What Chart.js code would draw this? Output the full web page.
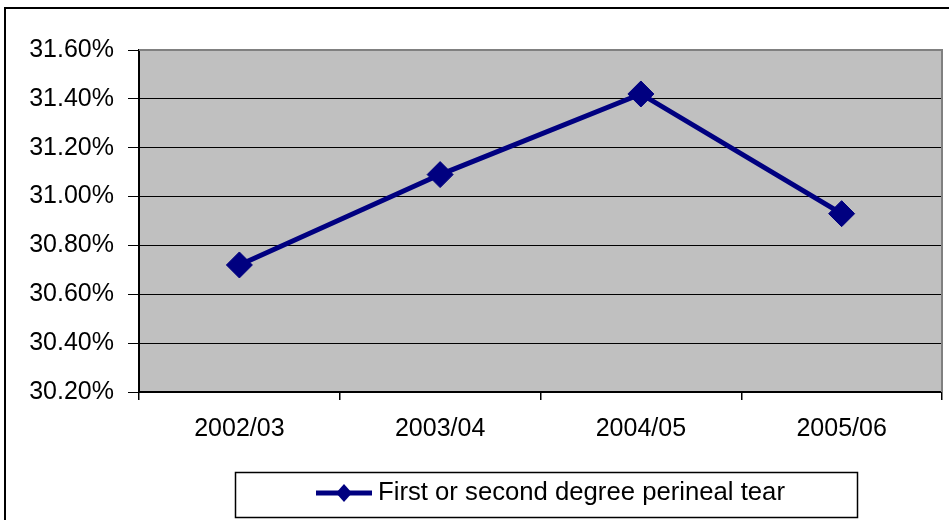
<!DOCTYPE html>
<html>
<head>
<meta charset="utf-8">
<script src="https://cdn.jsdelivr.net/npm/chart.js@4.4.0/dist/chart.umd.min.js"></script>
<style>
html,body{margin:0;padding:0;background:#fff;}
canvas{display:block;}
</style>
</head>
<body>
<canvas id="c" width="949" height="520"></canvas>
<script>
const categories = ['2002/03', '2003/04', '2004/05', '2005/06'];
const seriesLabel = 'First or second degree perineal tear';
const seriesValues = [30.72, 31.09, 31.42, 30.93];
const yMin = 30.2, yMax = 31.6, yStep = 0.2;

const FONT = '"Liberation Sans", Arial, sans-serif';
const NAVY = '#000080';

const frame = {
  id: 'frame',
  beforeDraw(chart) {
    const ctx = chart.ctx, a = chart.chartArea;
    ctx.save();
    ctx.fillStyle = '#fff';
    ctx.fillRect(0, 0, chart.width, chart.height);
    ctx.strokeStyle = '#000';
    ctx.lineWidth = 2;
    ctx.strokeRect(5, 8, chart.width + 20, chart.height + 20);
    ctx.fillStyle = '#C0C0C0';
    ctx.fillRect(a.left, a.top, a.right - a.left, a.bottom - a.top);
    ctx.restore();
  },
  beforeDatasetsDraw(chart) {
    const ctx = chart.ctx, a = chart.chartArea;
    ctx.save();
    ctx.strokeStyle = '#808080';
    ctx.lineWidth = 2;
    ctx.beginPath();
    ctx.moveTo(a.left, a.top);
    ctx.lineTo(a.right, a.top);
    ctx.lineTo(a.right, a.bottom);
    ctx.stroke();
    ctx.restore();
  },
  afterDraw(chart) {
    const ctx = chart.ctx;
    ctx.save();
    ctx.strokeStyle = '#000';
    ctx.lineWidth = 1.5;
    ctx.strokeRect(235.5, 472.5, 622, 45);
    const cy = 493;
    ctx.strokeStyle = NAVY;
    ctx.lineWidth = 5;
    ctx.beginPath();
    ctx.moveTo(316, cy);
    ctx.lineTo(372, cy);
    ctx.stroke();
    ctx.fillStyle = NAVY;
    ctx.beginPath();
    ctx.moveTo(344 - 8, cy);
    ctx.lineTo(344, cy - 9);
    ctx.lineTo(344 + 8, cy);
    ctx.lineTo(344, cy + 9);
    ctx.closePath();
    ctx.fill();
    ctx.fillStyle = '#000';
    ctx.font = '25.7px ' + FONT;
    ctx.textBaseline = 'middle';
    ctx.textAlign = 'left';
    ctx.fillText(chart.data.datasets[0].label, 378, cy);
    ctx.restore();
  }
};

new Chart(document.getElementById('c'), {
  type: 'line',
  data: {
    labels: categories,
    datasets: [{
      label: seriesLabel,
      data: seriesValues,
      borderColor: NAVY,
      backgroundColor: NAVY,
      borderWidth: 5,
      pointStyle: 'rectRot',
      pointRadius: 13,
      pointHoverRadius: 13,
      pointBorderWidth: 1,
      pointBorderColor: NAVY,
      pointBackgroundColor: NAVY,
      tension: 0
    }]
  },
  options: {
    responsive: false,
    animation: false,
    events: [],
    layout: { autoPadding: false, padding: { left: 0, top: 50, right: 7, bottom: 0 } },
    plugins: { legend: { display: false }, tooltip: { enabled: false } },
    scales: {
      x: {
        offset: true,
        grid: { offset: true, drawOnChartArea: false, drawTicks: true, tickLength: 8, color: '#000', lineWidth: 1.5 },
        border: { display: true, color: '#000', width: 2 },
        ticks: { color: '#000', font: { family: FONT, size: 25 }, padding: 14, maxRotation: 0 },
        afterFit(s) { s.height = 128; }
      },
      y: {
        min: yMin, max: yMax,
        grid: { color: '#000', lineWidth: 1, tickLength: 11, drawTicks: true },
        border: { display: true, color: '#000', width: 2 },
        ticks: {
          stepSize: yStep,
          color: '#000',
          font: { family: FONT, size: 25 },
          padding: 14,
          callback: v => Number(v).toFixed(2) + '%'
        },
        afterFit(s) { s.width = 139; }
      }
    }
  },
  plugins: [frame]
});
</script>
</body>
</html>
